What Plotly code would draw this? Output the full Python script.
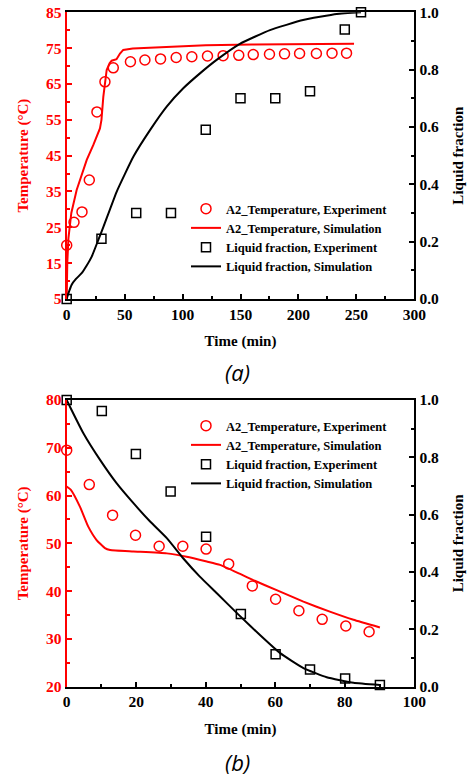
import plotly.graph_objects as go

# ---------------- Panel (a) data ----------------
a_texp_t = [0, 6.3, 13.2, 19.5, 26.1, 33, 40.2, 55, 67.5, 81, 94.5, 108, 121.5, 135,
            148.5, 161, 175, 188, 201, 215.5, 229, 241.5]
a_texp_v = [20, 26.4, 29.3, 38.2, 57.2, 65.6, 69.5, 71.2, 71.7, 72.0, 72.4, 72.6, 72.8, 72.9,
            73.0, 73.2, 73.3, 73.4, 73.5, 73.5, 73.6, 73.6]
a_tsim_t = [0, 0.5, 1.5, 4, 8.6, 13, 17.3, 23, 28.7, 30, 31.6, 34.5, 37, 38.8, 43, 46, 48.8,
            57, 80, 120, 160, 200, 248]
a_tsim_v = [5, 15, 22, 29, 35.4, 40, 43.8, 48, 52.6, 55, 61.4, 68.9, 70.8, 71.5, 71.9, 73.5, 74.5,
            74.9, 75.3, 75.8, 76.0, 76.1, 76.2]
a_lexp_t = [0, 30, 60, 90, 120, 150, 180, 210, 240, 254]
a_lexp_v = [0, 0.21, 0.30, 0.30, 0.59, 0.70, 0.70, 0.725, 0.94, 1.0]
a_lsim_t = [0, 1.5, 4.3, 8, 12.9, 17, 21.6, 27.3, 32, 43.1, 57.5, 71.9, 86.3, 100.6, 115, 129.4,
            149.5, 175.4, 204, 233, 254]
a_lsim_v = [0.0, 0.02, 0.05, 0.07, 0.09, 0.115, 0.148, 0.206, 0.255, 0.374, 0.496, 0.589, 0.671,
            0.735, 0.787, 0.834, 0.89, 0.938, 0.973, 0.994, 1.0]

# ---------------- Panel (b) data ----------------
b_texp_t = [0, 6.5, 13.2, 19.8, 26.6, 33.4, 40.1, 46.6, 53.4, 60.1, 66.8, 73.5, 80.3, 87]
b_texp_v = [69.5, 62.3, 55.9, 51.7, 49.4, 49.4, 48.8, 45.7, 41.1, 38.3, 35.9, 34.1, 32.7, 31.5]
b_tsim_t = [0, 1.2, 3.8, 6.2, 8.6, 11, 12.5, 19.2, 28.8, 34.5, 40.3, 44.1, 49.9, 53.7, 60.4,
            68.1, 75.7, 82.5, 90.1]
b_tsim_v = [61.9, 61.2, 57.7, 53.5, 50.7, 49.0, 48.6, 48.3, 47.9, 47.2, 46.2, 45.5, 43.6, 42.3,
            40.2, 37.8, 35.7, 34.0, 32.4]
b_lexp_t = [0, 10.1, 19.9, 29.9, 40.1, 50.1, 60.1, 70, 80.1, 90.1]
b_lexp_v = [1.0, 0.962, 0.812, 0.681, 0.523, 0.254, 0.113, 0.06, 0.029, 0.006]
b_lsim_t = [0, 1.4, 4.8, 9.6, 14.4, 19.2, 24, 28.8, 33.5, 38.3, 43.2, 49.2, 55.6, 61.4, 68.1,
            74.8, 82.5, 90.1]
b_lsim_v = [1.0, 0.965, 0.884, 0.791, 0.709, 0.64, 0.576, 0.518, 0.448, 0.384, 0.326, 0.254,
            0.18, 0.117, 0.065, 0.033, 0.014, 0.006]

# ---------------- Tick labels ----------------
a_xticks = [0, 50, 100, 150, 200, 250, 300]
a_yticks = [5, 15, 25, 35, 45, 55, 65, 75, 85]
b_xticks = [0, 20, 40, 60, 80, 100]
b_yticks = [20, 30, 40, 50, 60, 70, 80]
lf_ticks = [0.0, 0.2, 0.4, 0.6, 0.8, 1.0]

names = ["A2_Temperature, Experiment", "A2_Temperature, Simulation",
         "Liquid fraction, Experiment", "Liquid fraction, Simulation"]

RED = "#ff0000"
SERIF = "Liberation Serif"

fig = go.Figure()

def add_panel(xa, ya, ya2, leg, te_t, te_v, ts_t, ts_v, le_t, le_v, ls_t, ls_v, red_shape):
    fig.add_trace(go.Scatter(x=te_t, y=te_v, mode="markers", name=names[0],
                             marker=dict(symbol="circle-open", size=10, color=RED,
                                         line=dict(width=1.5, color=RED)),
                             xaxis=xa, yaxis=ya, legend=leg, cliponaxis=False))
    fig.add_trace(go.Scatter(x=ts_t, y=ts_v, mode="lines", name=names[1],
                             line=dict(color=RED, width=2, shape=red_shape, smoothing=0.4),
                             xaxis=xa, yaxis=ya, legend=leg))
    fig.add_trace(go.Scatter(x=le_t, y=le_v, mode="markers", name=names[2],
                             marker=dict(symbol="square-open", size=9, color="black",
                                         line=dict(width=1.5, color="black")),
                             xaxis=xa, yaxis=ya2, legend=leg, cliponaxis=False))
    fig.add_trace(go.Scatter(x=ls_t, y=ls_v, mode="lines", name=names[3],
                             line=dict(color="black", width=2, shape="spline", smoothing=0.4),
                             xaxis=xa, yaxis=ya2, legend=leg))

add_panel("x", "y", "y2", "legend", a_texp_t, a_texp_v, a_tsim_t, a_tsim_v,
          a_lexp_t, a_lexp_v, a_lsim_t, a_lsim_v, "linear")
add_panel("x2", "y3", "y4", "legend2", b_texp_t, b_texp_v, b_tsim_t, b_tsim_v,
          b_lexp_t, b_lexp_v, b_lsim_t, b_lsim_v, "spline")

W, H = 467, 778
xdom = [66.7 / W, 414.3 / W]
dom_a = [1 - 299 / H, 1 - 12.3 / H]
dom_b = [1 - 686.7 / H, 1 - 400 / H]

tickfont = dict(family=SERIF, size=15.5, color="black", weight=700)
tickfont_red = dict(family=SERIF, size=15.5, color=RED, weight=700)
titlefont = dict(family=SERIF, size=15, color="black", weight=700)
titlefont_red = dict(family=SERIF, size=15, color=RED, weight=700)

def bold(vals, fmt="{:g}"):
    return ["<b>" + fmt.format(v) + "</b>" for v in vals]

def xaxis(rng, ticks, minor, anchor):
    return dict(domain=xdom, range=rng, tickvals=ticks, ticktext=bold(ticks), anchor=anchor,
                automargin=False,
                showline=True, linecolor="black", linewidth=2, mirror=True,
                ticks="inside", ticklen=5, tickwidth=1.5, tickcolor="black",
                minor=dict(ticks="inside", dtick=minor, ticklen=3, tickwidth=1.5, tickcolor="black"),
                showgrid=False, zeroline=False, tickfont=tickfont,
                title=dict(text="Time (min)", font=titlefont, standoff=14))

def yleft(rng, ticks, minor, anchor, dom):
    return dict(domain=dom, range=rng, tickvals=ticks, ticktext=bold(ticks), anchor=anchor,
                automargin=False,
                showline=True, linecolor=RED, linewidth=2,
                ticks="inside", ticklen=5, tickwidth=1.5, tickcolor=RED,
                minor=dict(ticks="inside", tick0=rng[0], dtick=minor, ticklen=3, tickwidth=1.5,
                           tickcolor=RED),
                showgrid=False, zeroline=False, tickfont=tickfont_red,
                title=dict(text="Temperature (°C)", font=titlefont_red, standoff=14))

def yright(anchor, overlay, dom):
    return dict(domain=dom, range=[0, 1], tickvals=lf_ticks, ticktext=bold(lf_ticks, "{:.1f}"),
                anchor=anchor, automargin=False,
                overlaying=overlay, side="right",
                showline=True, linecolor="black", linewidth=2,
                ticks="inside", ticklen=5, tickwidth=1.5, tickcolor="black",
                minor=dict(ticks="inside", tick0=0, dtick=0.1, ticklen=3, tickwidth=1.5,
                           tickcolor="black"),
                showgrid=False, zeroline=False, tickfont=tickfont,
                title=dict(text="Liquid fraction", font=titlefont, standoff=14))

legfont = dict(family=SERIF, size=12.5, color="black", weight=700)

fig.update_layout(
    width=W, height=H, margin=dict(l=0, r=0, t=0, b=0, autoexpand=False),
    paper_bgcolor="white", plot_bgcolor="white",
    xaxis=xaxis([0, 300], a_xticks, 25, "y"),
    yaxis=yleft([5, 85], a_yticks, 5, "x", dom_a),
    yaxis2=yright("x", "y", dom_a),
    xaxis2=xaxis([0, 100], b_xticks, 10, "y3"),
    yaxis3=yleft([20, 80], b_yticks, 5, "x2", dom_b),
    yaxis4=yright("x2", "y3", dom_b),
    legend=dict(x=186 / W, y=1 - 194 / H, xanchor="left", yanchor="top",
                font=legfont, bgcolor="rgba(0,0,0,0)", itemwidth=30, tracegroupgap=0),
    legend2=dict(x=186 / W, y=1 - 411 / H, xanchor="left", yanchor="top",
                 font=legfont, bgcolor="rgba(0,0,0,0)", itemwidth=30, tracegroupgap=0),
    showlegend=True,
    annotations=[
        dict(text="(a)", x=238 / W, y=1 - 372 / H, xref="paper", yref="paper",
             xanchor="center", yanchor="middle", showarrow=False,
             font=dict(family="Open Sans", size=22, color="black", style="italic")),
        dict(text="(b)", x=238 / W, y=1 - 762 / H, xref="paper", yref="paper",
             xanchor="center", yanchor="middle", showarrow=False,
             font=dict(family="Open Sans", size=22, color="black", style="italic")),
    ],
)

fig.write_html("out.html", config={"displayModeBar": False},
               post_script="document.body.style.margin='0';")
